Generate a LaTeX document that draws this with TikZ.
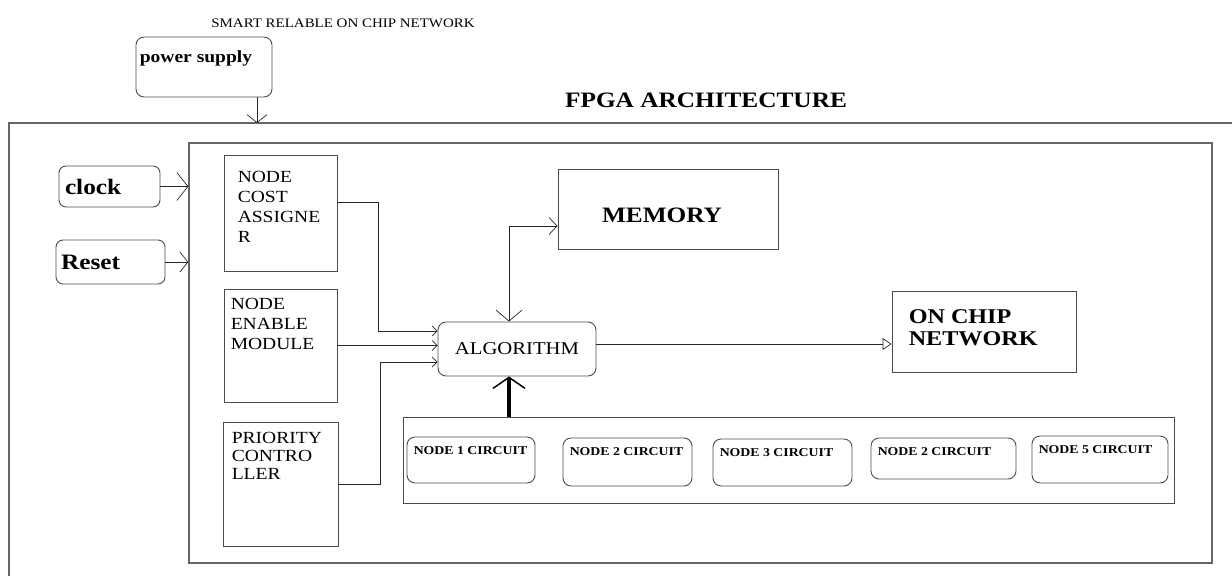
\documentclass[tikz,border=0pt]{standalone}
\usepackage{fontspec}
\setmainfont{Liberation Serif}[FakeStretch=1.15]
\usetikzlibrary{arrows.meta,positioning}

\begin{document}
\begin{tikzpicture}[x=1pt,y=-1pt,
  frame/.style={draw=black!60,line width=1.3pt,inner sep=0pt},
  blk/.style={draw=black!70,line width=0.9pt,inner sep=0pt},
  rblk/.style={blk,rounded corners=8pt},
  txt/.style={inner sep=0pt,align=left,anchor=north west},
  blkfont/.style={font=\fontsize{17}{20}\selectfont},
  wire/.style={draw=black!85,line width=0.7pt},
  smalltip/.style={-{Straight Barb[length=5pt,width=10pt]}},
  bigtip/.style={-{Straight Barb[length=11pt,width=28pt]}},
  midtip/.style={-{Straight Barb[length=8pt,width=20pt]}}]
\useasboundingbox (0,0) rectangle (1232,576);

% titles
\node[font=\fontsize{13}{15}\selectfont] (title) at (343,23) {SMART RELABLE ON CHIP NETWORK};
\node[font=\bfseries\fontsize{22}{26}\selectfont] (archtitle) at (706,100) {FPGA ARCHITECTURE};

% outer frame and fpga box
\draw[frame] (9,576) -- (9,123) -- (1232,123);
\node[frame,minimum width=1023pt,minimum height=420pt] (fpga) at (700.5,353) {};

% inputs
\node[rblk,minimum width=136pt,minimum height=60pt] (power) at (204,67) {};
\node[txt,font=\bfseries\fontsize{17}{20}\selectfont,below right=14pt and 4pt of power.north west] (powertxt) {power supply};
\node[rblk,rounded corners=7pt,minimum width=101pt,minimum height=41pt,text width=89pt,align=left,font=\bfseries\fontsize{22}{26}\selectfont] (clock) at (109.5,186.5) {clock};
\node[rblk,rounded corners=7pt,minimum width=109pt,minimum height=44pt,text width=99pt,align=left,font=\bfseries\fontsize{22}{26}\selectfont] (reset) at (110.5,262) {Reset};

% control blocks
\node[blk,minimum width=113pt,minimum height=116pt] (cost) at (280.5,213) {};
\node[txt,blkfont,below right=16pt and 14pt of cost.north west] (costtxt) {NODE\\COST\\ASSIGNE\\R};
\node[blk,minimum width=113pt,minimum height=113pt] (enable) at (280.5,345.5) {};
\node[txt,blkfont,below right=9pt and 7pt of enable.north west] (enabletxt) {NODE\\ENABLE\\MODULE};
\node[blk,minimum width=115pt,minimum height=124pt] (prio) at (280.5,484) {};
\node[txt,font=\fontsize{17}{18}\selectfont,below right=10pt and 9pt of prio.north west] (priotxt) {PRIORITY\\CONTRO\\LLER};

% core
\node[rblk,minimum width=158pt,minimum height=54pt,font=\fontsize{18}{20}\selectfont] (alg) at (517,349) {ALGORITHM};
\node[blk,minimum width=220pt,minimum height=80pt] (mem) at (668,209) {};
\node[font=\bfseries\fontsize{22}{26}\selectfont] (memtxt) at ([shift={(-6,6)}]mem.center) {MEMORY};
\node[blk,minimum width=184pt,minimum height=81pt] (ocn) at (984,331.5) {};
\node[txt,font=\bfseries\fontsize{21}{22}\selectfont,below right=19pt and 17pt of ocn.north west] (ocntxt) {ON CHIP\\NETWORK};

% node circuits
\node[blk,minimum width=771pt,minimum height=86pt] (circuits) at (788.5,460) {};
\foreach \name/\cx/\cy/\w/\h/\lab in {c1/471/460/128/46/NODE 1 CIRCUIT,
    c2/627.5/462/129/48/NODE 2 CIRCUIT, c3/782.5/462.5/139/47/NODE 3 CIRCUIT,
    c4/943.5/458.5/145/41/NODE 2 CIRCUIT, c5/1100/459.5/136/47/NODE 5 CIRCUIT}
{
  \node[rblk,minimum width=\w,minimum height=\h] (\name) at (\cx,\cy) {};
  \node[txt,font=\bfseries\fontsize{12}{14}\selectfont,below right=10pt and 7pt of \name.north west] (\name txt) {\lab};
}

% connectors
\coordinate (pwrin) at (257,123);
\draw[wire,midtip] (power.south -| pwrin) -- (pwrin);
\draw[wire,bigtip] (clock.east) -- (clock.east -| fpga.west);
\draw[wire,midtip] (reset.east) -- (reset.east -| fpga.west);
\draw[wire,smalltip] ([yshift=11pt]cost.east) -- ++(41,0) |- ([yshift=18pt]alg.west);
\draw[wire,smalltip] (enable.east) -- (enable.east -| alg.west);
\draw[wire,smalltip] (prio.east) -- ++(42,0) |- ([yshift=-13pt]alg.west);
\draw[wire,{Straight Barb[length=11pt,width=26pt]}-{Straight Barb[length=8pt,width=17pt]}] ([xshift=-8pt]alg.north) |- ([yshift=-17pt]mem.west);
\draw[wire,-{Triangle[open,length=9pt,width=12pt]}] ([yshift=5pt]alg.east) -- ([yshift=5pt]alg.east -| ocn.west);
\coordinate (algin) at ([xshift=-8pt]alg.south);
\draw[line width=4pt,-{Straight Barb[length=11pt,width=32pt,line width=1.5pt]}] (circuits.north -| algin) -- (algin);
\end{tikzpicture}
\end{document}
